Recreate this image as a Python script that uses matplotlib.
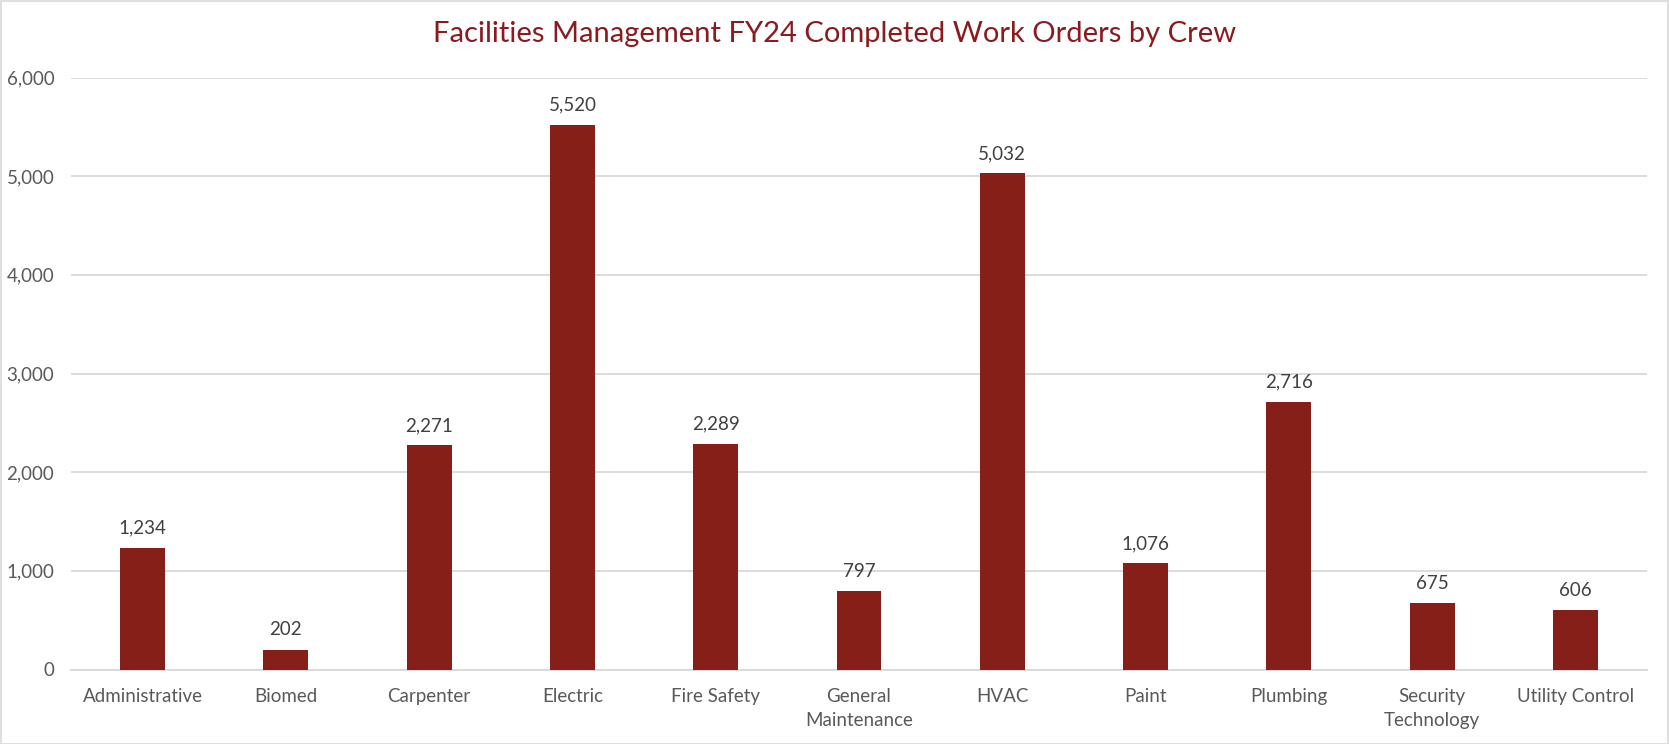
import matplotlib
matplotlib.use("Agg")
import matplotlib.pyplot as plt
from matplotlib.patches import Rectangle
from matplotlib.ticker import FuncFormatter

categories = ["Administrative", "Biomed", "Carpenter", "Electric", "Fire Safety",
              "General\nMaintenance", "HVAC", "Paint", "Plumbing",
              "Security\nTechnology", "Utility Control"]
values = [1234, 202, 2271, 5520, 2289, 797, 5032, 1076, 2716, 675, 606]
yticks = [0, 1000, 2000, 3000, 4000, 5000, 6000]
title = "Facilities Management FY24 Completed Work Orders by Crew"

plt.rcParams['font.family'] = ['Lato', 'DejaVu Sans']

W, H = 1669, 744
fig = plt.figure(figsize=(W / 100, H / 100), dpi=100)
ax = fig.add_axes([71 / W, 1 - 669.5 / H, (1647 - 71) / W, (669.5 - 77.5) / H])

x = list(range(len(categories)))
ax.bar(x, values, width=0.314, color="#861F18", zorder=3)
for xi, v in zip(x, values):
    ax.annotate(f"{v:,}", (xi, v), xytext=(0, 8), textcoords="offset points",
                ha="center", va="bottom", fontsize=13.5, color="#404040")

ax.set_xlim(-0.5, len(categories) - 0.5)
ax.set_ylim(0, 6000)
ax.set_yticks(yticks)
ax.yaxis.set_major_formatter(FuncFormatter(lambda v, p: f"{int(v):,}"))
ax.set_xticks(x)
ax.set_xticklabels(categories, fontsize=13.5, color="#595959", linespacing=1.5)
ax.tick_params(axis="y", labelsize=13.5, labelcolor="#595959", length=0, pad=12)
ax.tick_params(axis="x", length=0, pad=13)
ax.grid(axis="y", color="#D9D9D9", linewidth=1.3, zorder=0)
ax.set_axisbelow(True)
for s in ["top", "right", "left"]:
    ax.spines[s].set_visible(False)
ax.spines["bottom"].set_color("#D9D9D9")
ax.spines["bottom"].set_linewidth(1.3)

fig.text(835 / W, 1 - 34 / H, title, ha="center", va="center",
         fontsize=21, color="#8B1A1F")

fig.patches.append(Rectangle((0.5 / W, 0.5 / H), 1 - 1.5 / W, 1 - 1.5 / H,
                             transform=fig.transFigure, fill=False,
                             edgecolor="#D9D9D9", linewidth=1.2))

fig.savefig("out.png", dpi=100)
